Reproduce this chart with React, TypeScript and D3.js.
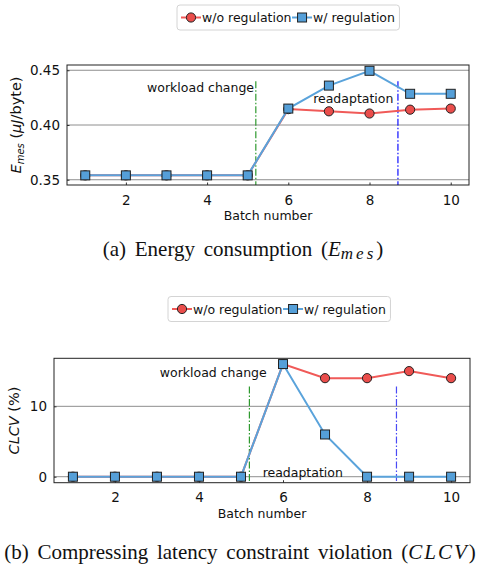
import React, { useEffect, useRef } from "react";
import * as d3 from "d3";

// values
const batches = [1, 2, 3, 4, 5, 6, 7, 8, 9, 10];
const energyWithout = [0.354, 0.354, 0.354, 0.354, 0.354, 0.4145, 0.4125, 0.4105, 0.414, 0.415];
const energyWith = [0.354, 0.354, 0.354, 0.354, 0.354, 0.415, 0.436, 0.4495, 0.4285, 0.4285];
const clcvWithout = [0, 0, 0, 0, 0, 16, 14, 14, 15, 14];
const clcvWith = [0, 0, 0, 0, 0, 16, 6, 0, 0, 0];
const seriesNames = ["w/o regulation", "w/ regulation"];
const xTicks = [2, 4, 6, 8, 10];
const energyTicks = [0.35, 0.4, 0.45];
const clcvTicks = [0, 10];
const changeBatch = 5.2;
const readaptBatch = 8.7;

const FONT = "'DejaVu Sans', sans-serif";
const SERIF = "'Liberation Serif', serif";
const RED_LINE = "#f05a58";
const RED_FILL = "#ea4d4b";
const BLUE_LINE = "#5aa3db";
const BLUE_FILL = "#559fd8";

function drawMarker(g, kind, cx, cy) {
  if (kind === "circle") {
    g.append("circle").attr("cx", cx).attr("cy", cy).attr("r", 4.6)
      .attr("fill", RED_FILL).attr("stroke", "#222").attr("stroke-width", 1);
  } else {
    g.append("rect").attr("x", cx - 4.5).attr("y", cy - 4.5).attr("width", 9).attr("height", 9)
      .attr("fill", BLUE_FILL).attr("stroke", "#222").attr("stroke-width", 1);
  }
}

function drawPanel(svg, p) {
  var g = svg.append("g");
  const x = d3.scaleLinear().domain([0.55, 10.45]).range([p.left, p.right]);
  const y = d3.scaleLinear().domain(p.yDomain).range([p.bottom, p.top]);

  // grid
  g.selectAll(".grid").data(p.yTicks).join("line").attr("class", "grid")
    .attr("x1", p.left).attr("x2", p.right)
    .attr("y1", d => y(d)).attr("y2", d => y(d))
    .attr("stroke", "#8e8e8e").attr("stroke-width", 1);

  // axes
  const xa = g.append("g").attr("transform", `translate(0, ${p.bottom})`)
    .call(d3.axisBottom(x).tickValues(xTicks).tickSize(-2.5).tickPadding(10).tickFormat(d3.format("d")));
  const ya = g.append("g").attr("transform", `translate(${p.left}, 0)`)
    .call(d3.axisLeft(y).tickValues(p.yTicks).tickSize(-2.5).tickPadding(7).tickFormat(d3.format(p.fmt)));
  [xa, ya].forEach(a => {
    a.select(".domain").remove();
    a.attr("font-family", FONT).attr("font-size", 13.5);
    a.selectAll("text").attr("fill", "#111");
    a.selectAll("line").attr("stroke", "#333");
  });

  // event lines
  [[changeBatch, "#2f9a2f"], [readaptBatch, p.blueV]].forEach(([b, c]) => {
    g.append("line")
      .attr("x1", x(b)).attr("x2", x(b))
      .attr("y1", y(p.vTop)).attr("y2", p.bottom)
      .attr("stroke", c).attr("stroke-width", 1.2)
      .attr("stroke-dasharray", "7,2,1.5,2");
  });

  // annotations
  p.notes.forEach(n => {
    g.append("text").attr("x", x(n.x)).attr("y", y(n.y))
      .attr("text-anchor", "middle").attr("font-family", FONT).attr("font-size", 12.5)
      .attr("fill", "#111").text(n.text);
  });

  // series
  const line = d3.line().x((d, i) => x(batches[i])).y(d => y(d));
  [[p.without, RED_LINE, "circle"], [p.with, BLUE_LINE, "square"]].forEach(([vals, c, kind]) => {
    g.append("path").datum(vals).attr("d", line)
      .attr("fill", "none").attr("stroke", c).attr("stroke-width", 2);
    vals.forEach((v, i) => drawMarker(g, kind, x(batches[i]), y(v)));
  });

  // frame
  g.append("rect").attr("x", p.left).attr("y", p.top)
    .attr("width", p.right - p.left).attr("height", p.bottom - p.top)
    .attr("fill", "none").attr("stroke", "#222").attr("stroke-width", 1);

  // x label
  g.append("text").attr("x", (p.left + p.right) / 2).attr("y", p.bottom + 35)
    .attr("text-anchor", "middle").attr("font-family", FONT).attr("font-size", 12.5)
    .attr("fill", "#111").text("Batch number");

  // y label
  const yl = g.append("text")
    .attr("transform", `translate(${p.ylabelX}, ${(p.top + p.bottom) / 2}) rotate(-90)`)
    .attr("text-anchor", "middle").attr("font-family", FONT).attr("font-size", 14.5).attr("fill", "#111");
  p.ylabel(yl);

  // legend
  const lg = svg.append("g");
  const box = lg.append("rect").attr("x", p.legX).attr("y", p.legY - 12.5).attr("height", 25)
    .attr("rx", 3).attr("fill", "white").attr("stroke", "#d4d4d4").attr("stroke-width", 1);
  let cx = p.legX + 4;
  [[RED_LINE, "circle"], [BLUE_LINE, "square"]].forEach(([c, kind], i) => {
    lg.append("line").attr("x1", cx).attr("x2", cx + 20).attr("y1", p.legY).attr("y2", p.legY)
      .attr("stroke", c).attr("stroke-width", 2);
    drawMarker(lg, kind, cx + 10, p.legY);
    const t = lg.append("text").attr("x", cx + 21).attr("y", p.legY + 4.5)
      .attr("font-family", FONT).attr("font-size", 12.5).attr("fill", "#111").text(seriesNames[i]);
    cx = cx + 21 + t.node().getComputedTextLength() + 0.5;
  });
  box.attr("width", cx + 4 - p.legX);
}

export default function App() {
  const ref = useRef(null);

  useEffect(() => {
    const svg = d3.select(ref.current);
    svg.selectAll("*").remove();

    drawPanel(svg, {
      left: 67, right: 469, top: 65, bottom: 185,
      yDomain: [0.3452, 0.4548], yTicks: energyTicks, fmt: ".2f",
      without: energyWithout, with: energyWith, vTop: 0.44, blueV: "#1010ff",
      notes: [
        { text: "workload change", x: 3.84, y: 0.4305 },
        { text: "readaptation", x: 7.6, y: 0.4205 },
      ],
      ylabelX: 21,
      ylabel: t => {
        t.append("tspan").attr("font-style", "italic").text("E");
        t.append("tspan").attr("font-style", "italic").attr("font-size", 10).attr("dy", 3).text("mes");
        t.append("tspan").attr("dy", -3).text(" (");
        t.append("tspan").attr("font-style", "italic").text("μJ");
        t.append("tspan").text("/byte)");
      },
      legX: 177, legY: 17.5,
    });

    drawPanel(svg, {
      left: 54, right: 470, top: 358.3, bottom: 482.7,
      yDomain: [-0.85, 16.82], yTicks: clcvTicks, fmt: "d",
      without: clcvWithout, with: clcvWith, vTop: 12.8, blueV: "#4a4af5",
      notes: [
        { text: "workload change", x: 4.34, y: 14.1 },
        { text: "readaptation", x: 6.47, y: -0.05 },
      ],
      ylabelX: 19,
      ylabel: t => {
        t.append("tspan").attr("font-style", "italic").text("CLCV");
        t.append("tspan").text(" (%)");
      },
      legX: 168, legY: 309,
    });

    // captions
    const cap1 = svg.append("text").attr("x", 243).attr("y", 255.5).attr("text-anchor", "middle")
      .attr("word-spacing", 3.5)
      .attr("font-family", SERIF).attr("font-size", 21).attr("fill", "#111");
    cap1.append("tspan").text("(a)  Energy consumption (");
    cap1.append("tspan").attr("font-style", "italic").text("E");
    cap1.append("tspan").attr("font-style", "italic").attr("font-size", 17)
      .attr("letter-spacing", 3).attr("dy", 3.5).text("mes");
    cap1.append("tspan").attr("dy", -3.5).text(")");

    const cap2 = svg.append("text").attr("x", 240).attr("y", 559).attr("text-anchor", "middle")
      .attr("word-spacing", 3.5)
      .attr("font-family", SERIF).attr("font-size", 21).attr("fill", "#111");
    cap2.append("tspan").text("(b)  Compressing latency constraint violation (");
    cap2.append("tspan").attr("font-style", "italic").attr("letter-spacing", 2).text("CLCV");
    cap2.append("tspan").text(")");
  }, []);

  return (
    <svg ref={ref} width={480} height={568}
      style={{ position: "absolute", left: 0, top: 0, background: "white" }} />
  );
}
